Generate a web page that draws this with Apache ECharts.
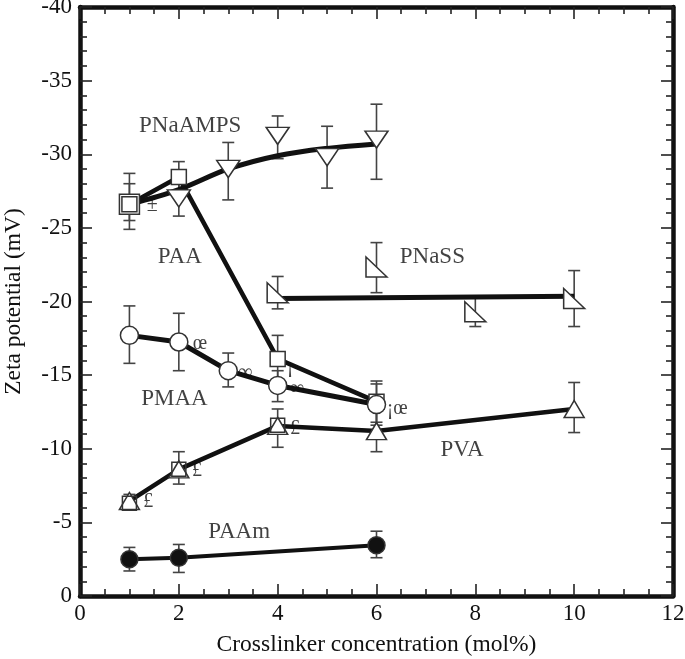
<!DOCTYPE html>
<html><head><meta charset="utf-8">
<script src="https://cdn.jsdelivr.net/npm/echarts@6/dist/echarts.min.js"></script>
<style>html,body{margin:0;padding:0;background:#fff}#c{width:685px;height:659px}</style>
</head><body><div id="c"></div>
<script>
// ---- data (x = crosslinker mol%, y = zeta potential mV) ----
const pnaampsX = [2, 3, 4, 5, 6];
const pnaampsY = [-27.0, -29.0, -31.25, -29.8, -31.0];
const pnaampsErrX = [1, 2, 3, 4, 5, 6];
const pnaampsLo = [-28.0, -28.3, -30.8, -32.6, -31.9, -33.4];
const pnaampsHi = [-25.5, -25.8, -26.9, -29.7, -27.7, -28.3];
const pnaampsFitX = [1, 2, 3, 4, 5, 6];
const pnaampsFitY = [-26.6, -27.6, -29.0, -29.9, -30.4, -30.7];

const paaX = [1, 2, 4, 6];
const paaY = [-26.6, -28.45, -16.1, -13.2];
const paaLo = [-28.7, -29.5, -17.7, -14.6];
const paaHi = [-24.9, -27.4, -14.5, -11.8];

const pmaaX = [1, 2, 3, 4, 6];
const pmaaY = [-17.7, -17.25, -15.3, -14.3, -13.0];
const pmaaLo = [-19.7, -19.2, -16.5, -15.3, -14.4];
const pmaaHi = [-15.8, -15.3, -14.2, -13.2, -11.6];

const pvaX = [1, 2, 4, 6, 10];
const pvaY = [-6.45, -8.6, -11.55, -11.2, -12.7];
const pvaLo = [-6.9, -9.8, -12.7, -12.6, -14.5];
const pvaHi = [-6.0, -7.6, -10.1, -9.8, -11.1];
const pvaSqX = [1, 2, 4];
const pvaSqY = [-6.3, -8.6, -11.6];

const paamX = [1, 2, 6];
const paamY = [-2.5, -2.6, -3.45];
const paamLo = [-3.3, -3.5, -4.4];
const paamHi = [-1.7, -1.6, -2.6];

const pnassX = [4, 6, 8, 10];
const pnassY = [-20.6, -22.35, -19.3, -20.2];
const pnassLo = [-21.7, -24.0, -20.3, -22.1];
const pnassHi = [-19.5, -20.6, -18.3, -18.3];
const pnassFitX = [4, 10];
const pnassFitY = [-20.2, -20.35];

const paaDoubleX = [1];
const paaDoubleY = [-26.6];

const seriesNames = ['PNaAMPS', 'PAA', 'PNaSS', 'PMAA', 'PVA', 'PAAm'];
const nameX = [2.23, 2.02, 7.13, 1.91, 7.73, 3.22];
const nameY = [-31.9, -23.0, -23.0, -13.4, -9.9, -4.35];

const glyphText = ['œ', '∞', '∞', '¡', '¡œ', '£', '£', '£', '±'];
const glyphX = [2.43, 3.34, 4.39, 4.25, 6.42, 4.35, 2.37, 1.38, 1.46];
const glyphY = [-17.1, -15.15, -14.1, -15.6, -12.7, -11.35, -8.5, -6.4, -26.5];

const xTickLabels = ['0', '2', '4', '6', '8', '10', '12'];
const yTickLabels = ['-40', '-35', '-30', '-25', '-20', '-15', '-10', '-5', '0'];

// ---- helpers ----
const zip = (a, b) => a.map((v, i) => [v, b[i]]);
const zip3 = (a, b, c) => a.map((v, i) => [v, b[i], c[i]]);
const SERIF = '"Liberation Serif", "Times New Roman", serif';
const INK = '#111';
const MK = '#333';
const TXT = '#111';

function errItem(params, api) {
  const x = api.value(0), lo = api.value(1), hi = api.value(2);
  const p1 = api.coord([x, lo]), p2 = api.coord([x, hi]);
  const w = 6;
  const st = { stroke: '#444', lineWidth: 1.6 };
  return { type: 'group', children: [
    { type: 'line', shape: { x1: p1[0], y1: p1[1], x2: p2[0], y2: p2[1] }, style: st },
    { type: 'line', shape: { x1: p1[0] - w, y1: p1[1], x2: p1[0] + w, y2: p1[1] }, style: st },
    { type: 'line', shape: { x1: p2[0] - w, y1: p2[1], x2: p2[0] + w, y2: p2[1] }, style: st }
  ]};
}
function errSeries(x, lo, hi) {
  return { type: 'custom', renderItem: errItem, data: zip3(x, lo, hi),
    encode: { x: 0, y: [1, 2] }, z: 1, silent: true };
}
function lineSeries(x, y, w, smooth) {
  return { type: 'line', data: zip(x, y), showSymbol: false, smooth: smooth || false,
    lineStyle: { color: INK, width: w }, z: 2, silent: true };
}
function markSeries(x, y, symbol, size, fill, rotate, z) {
  return { type: 'scatter', data: zip(x, y), symbol: symbol, symbolSize: size,
    symbolRotate: rotate || 0, symbolKeepAspect: false,
    itemStyle: { color: fill, borderColor: MK, borderWidth: 1.5, opacity: 1 },
    z: z || 3, silent: true };
}
function textSeries(x, y, txt, size) {
  return { type: 'scatter', data: x.map((v, i) => [v, y[i], txt[i]]), symbolSize: 1,
    itemStyle: { color: 'rgba(0,0,0,0)' }, z: 5, silent: true,
    label: { show: true, position: 'inside', formatter: p => p.value[2],
      fontFamily: SERIF, fontSize: size, color: TXT } };
}

const axisCommonX = {
  type: 'value', min: 0, max: 12, interval: 2,
  axisLine: { show: true, onZero: false, lineStyle: { color: INK, width: 4.5 } },
  axisTick: { show: true, inside: true, length: 12, lineStyle: { color: '#222', width: 1.6 } },
  minorTick: { show: true, splitNumber: 4, length: 7, lineStyle: { color: '#222', width: 1.6 } },
  splitLine: { show: false }, minorSplitLine: { show: false }
};
const axisCommonY = {
  type: 'value', min: -40, max: 0, interval: 5, inverse: true,
  axisLine: { show: true, onZero: false, lineStyle: { color: INK, width: 4.5 } },
  axisTick: { show: true, inside: true, length: 12, lineStyle: { color: '#222', width: 1.6 } },
  minorTick: { show: true, splitNumber: 5, length: 7, lineStyle: { color: '#222', width: 1.6 } },
  splitLine: { show: false }, minorSplitLine: { show: false }
};

const chart = echarts.init(document.getElementById('c'), null, { renderer: 'canvas' });
chart.setOption({
  animation: false,
  backgroundColor: '#fff',
  grid: { left: 80, right: 12, top: 7, bottom: 63, containLabel: false, outerBoundsMode: 'none' },
  xAxis: [
    Object.assign({}, axisCommonX, { position: 'bottom',
      axisLabel: { show: true, margin: 6, fontFamily: SERIF, fontSize: 23, color: TXT,
        formatter: v => xTickLabels[Math.round(v / 2)] },
      name: 'Crosslinker concentration (mol%)', nameLocation: 'middle', nameGap: 37,
      nameTextStyle: { fontFamily: SERIF, fontSize: 23.5, color: TXT } }),
    Object.assign({}, axisCommonX, { position: 'top', axisLabel: { show: false } })
  ],
  yAxis: [
    Object.assign({}, axisCommonY, { position: 'left',
      axisLabel: { show: true, margin: 8, fontFamily: SERIF, fontSize: 23, color: TXT,
        formatter: v => yTickLabels[Math.round((v + 40) / 5)] },
      name: 'Zeta potential (mV)', nameLocation: 'middle', nameGap: 54,
      nameTextStyle: { fontFamily: SERIF, fontSize: 23.5, color: TXT } }),
    Object.assign({}, axisCommonY, { position: 'right', axisLabel: { show: false } })
  ],
  series: [
    errSeries(pnaampsErrX, pnaampsLo, pnaampsHi),
    errSeries(paaX, paaLo, paaHi),
    errSeries(pmaaX, pmaaLo, pmaaHi),
    errSeries(pvaX, pvaLo, pvaHi),
    errSeries(paamX, paamLo, paamHi),
    errSeries(pnassX, pnassLo, pnassHi),
    lineSeries(pnaampsFitX, pnaampsFitY, 5, 0.35),
    lineSeries(paaX, paaY, 4.5),
    lineSeries(pmaaX, pmaaY, 5),
    lineSeries(pvaX, pvaY, 4.5),
    lineSeries(paamX, paamY, 4),
    lineSeries(pnassFitX, pnassFitY, 5),
    markSeries(pnaampsX, pnaampsY, 'triangle', [23, 17], '#fff', 180),
    markSeries(paaDoubleX, paaDoubleY, 'rect', 20, '#fff'),
    markSeries(paaX, paaY, 'rect', 15, '#fff'),
    markSeries(pmaaX, pmaaY, 'circle', 18, '#fff'),
    markSeries(pvaX, pvaY, 'triangle', [20, 17], '#fff'),
    markSeries(pvaSqX, pvaSqY, 'rect', 14, 'rgba(255,255,255,0)', 0, 4),
    markSeries(paamX, paamY, 'circle', 17, '#111'),
    markSeries(pnassX, pnassY, 'path://M0,0L0,20L20,20Z', [21, 20], '#fff'),
    textSeries(nameX, nameY, seriesNames, 23),
    textSeries(glyphX, glyphY, glyphText, 20)
  ]
});
</script></body></html>
